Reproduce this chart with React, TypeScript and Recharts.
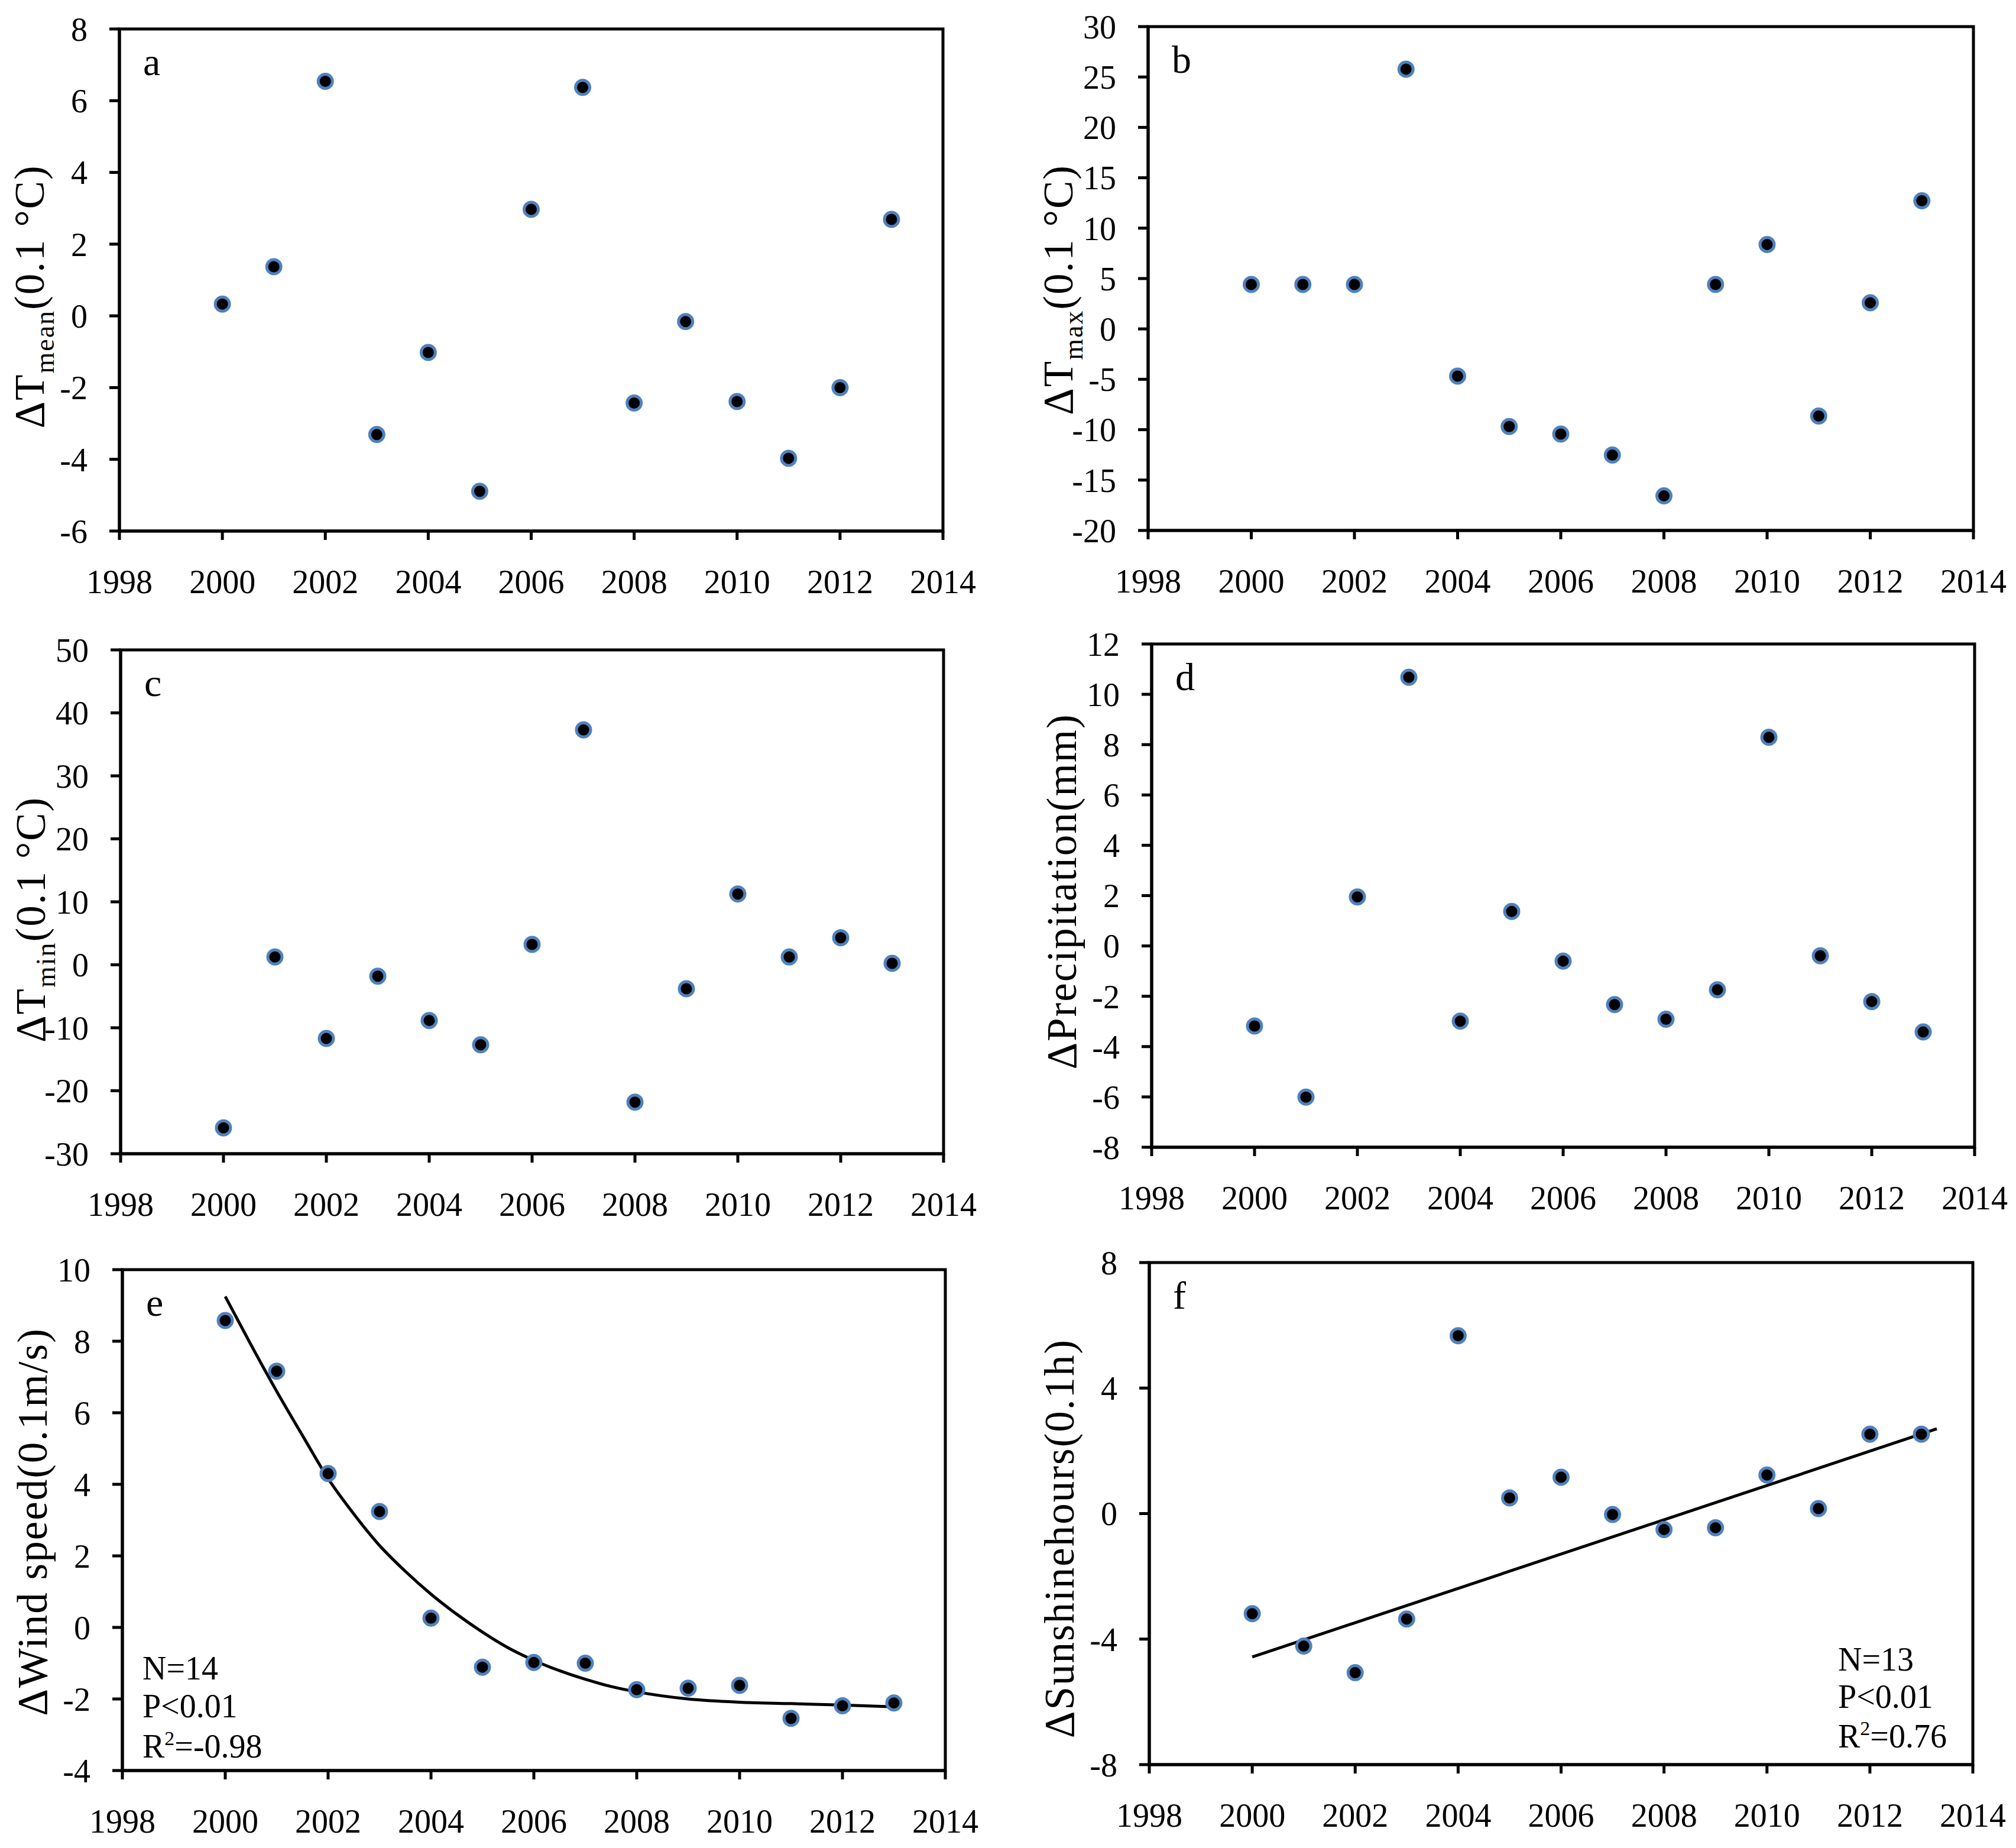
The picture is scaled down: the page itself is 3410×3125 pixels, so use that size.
import React from "react"
import {
  ComposedChart,
  Scatter,
  Line,
  XAxis,
  YAxis,
  ReferenceArea,
} from "recharts"

// years of the observations
const years = [2000, 2001, 2002, 2003, 2004, 2005, 2006, 2007, 2008, 2009, 2010, 2011, 2012, 2013]

// anomaly series
const tMean = [0.33, 1.37, 6.54, -3.31, -1.02, -4.89, 2.97, 6.37, -2.43, -0.16, -2.39, -3.97, -2.0, 2.69]
const tMax = [4.41, 4.41, 4.41, 25.77, -4.68, -9.69, -10.43, -12.52, -16.56, 4.41, 8.38, -8.64, 2.6, 12.72]
const tMin = [-25.9, 1.24, -11.7, -1.8, -8.84, -12.7, 3.24, 37.3, -21.8, -3.8, 11.25, 1.24, 4.3, 0.23]
const precipitation = [-3.18, -6.01, 1.95, 10.68, -2.99, 1.37, -0.6, -2.33, -2.91, -1.74, 8.29, -0.39, -2.21, -3.42]
const windSpeed = [8.58, 7.16, 4.3, 3.24, 0.26, -1.11, -0.98, -1.0, -1.74, -1.7, -1.62, -2.54, -2.19, -2.11]
const sunshine = [-3.19, -4.22, -5.07, -3.36, 5.67, 0.5, 1.16, -0.03, -0.51, -0.45, 1.23, 0.16, 2.53, 2.53]

// fitted curves
const windFitYears = [2000, 2000.5, 2001, 2001.5, 2002, 2002.5, 2003, 2003.5, 2004, 2004.5, 2005, 2005.5, 2006, 2006.5, 2007, 2007.5, 2008, 2009, 2010, 2011, 2012, 2013]
const windFitValues = [9.25, 7.9, 6.6, 5.37, 4.16, 3.17, 2.29, 1.57, 0.93, 0.37, -0.13, -0.57, -0.92, -1.21, -1.45, -1.65, -1.8, -2.0, -2.09, -2.13, -2.17, -2.22]
const sunFitYears = [2000, 2013.3]
const sunFitValues = [-4.57, 2.7]

// axis ticks
const xTicks = [1998, 2000, 2002, 2004, 2006, 2008, 2010, 2012, 2014]
const tMeanTicks = [-6, -4, -2, 0, 2, 4, 6, 8]
const tMaxTicks = [-20, -15, -10, -5, 0, 5, 10, 15, 20, 25, 30]
const tMinTicks = [-30, -20, -10, 0, 10, 20, 30, 40, 50]
const precipTicks = [-8, -6, -4, -2, 0, 2, 4, 6, 8, 10, 12]
const windTicks = [-4, -2, 0, 2, 4, 6, 8, 10]
const sunTicks = [-8, -4, 0, 4, 8]

const FONT = '"Liberation Serif", "Times New Roman", serif'

const toPoints = (xs: number[], ys: number[]) => xs.map((x, i) => ({ x, y: ys[i] }))

function Marker(props: any) {
  const { cx, cy } = props
  if (cx == null || cy == null) return null
  return <circle cx={cx} cy={cy} r={12} fill="#000" stroke="#4F81BD" strokeWidth={5} />
}

type LabelParts = { main: string; sub?: string; rest?: string; shift: number }

const panels = [
  {
    letter: "a", left: 0, top: 0, width: 1700, height: 1040,
    mTop: 49, mRight: 105, yWidth: 202, xHeight: 142,
    values: tMean, ticks: tMeanTicks,
    label: { main: "ΔT", sub: "mean", rest: "(0.1 °C)", shift: 28 } as LabelParts,
  },
  {
    letter: "b", left: 1700, top: 0, width: 1710, height: 1040,
    mTop: 45, mRight: 72, yWidth: 242, xHeight: 143,
    values: tMax, ticks: tMaxTicks,
    label: { main: "ΔT", sub: "max", rest: "(0.1 °C)", shift: 19 } as LabelParts,
  },
  {
    letter: "c", left: 0, top: 1040, width: 1700, height: 1040,
    mTop: 59, mRight: 104, yWidth: 204, xHeight: 129,
    values: tMin, ticks: tMinTicks,
    label: { main: "ΔT", sub: "min", rest: "(0.1 °C)", shift: 30 } as LabelParts,
  },
  {
    letter: "d", left: 1700, top: 1040, width: 1710, height: 1040,
    mTop: 49, mRight: 70, yWidth: 248, xHeight: 140,
    values: precipitation, ticks: precipTicks,
    label: { main: "ΔPrecipitation(mm)", shift: -7 } as LabelParts,
  },
  {
    letter: "e", left: 0, top: 2080, width: 1700, height: 1045,
    mTop: 67, mRight: 101, yWidth: 207, xHeight: 131,
    values: windSpeed, ticks: windTicks,
    label: { main: "ΔWind speed(0.1m/s)", shift: 3 } as LabelParts,
    fit: toPoints(windFitYears, windFitValues), fitType: "monotone",
    stats: { lines: ["N=14", "P<0.01", "-0.98"], anchor: "left" },
  },
  {
    letter: "f", left: 1700, top: 2080, width: 1710, height: 1045,
    mTop: 55, mRight: 73, yWidth: 244, xHeight: 141,
    values: sunshine, ticks: sunTicks,
    label: { main: "ΔSunshinehours(0.1h)", shift: 42 } as LabelParts,
    fit: toPoints(sunFitYears, sunFitValues), fitType: "linear",
    stats: { lines: ["N=13", "P<0.01", "0.76"], anchor: "right" },
  },
]

function PlotText({ viewBox, letter, label, stats }: any) {
  if (!viewBox) return null
  const { x, y, width, height } = viewBox
  const bx = x - 128
  const cy = y + height / 2 + label.shift
  let statsNode = null
  if (stats) {
    const sx = stats.anchor === "left" ? x + 34 : x + width - 228
    const base = stats.anchor === "left" ? [154, 90, 22] : [159, 96, 29]
    const by = base.map((b: number) => y + height - b)
    statsNode = (
      <g fontFamily={FONT} fontSize={56} fill="#000">
        <text x={sx} y={by[0]}>{stats.lines[0]}</text>
        <text x={sx} y={by[1]}>{stats.lines[1]}</text>
        <text x={sx} y={by[2]}>
          R<tspan fontSize={34} dy={-21}>2</tspan>
          <tspan dy={21}>={stats.lines[2]}</tspan>
        </text>
      </g>
    )
  }
  return (
    <g>
      <text x={x + 40} y={y + 78} fontFamily={FONT} fontSize={66} fill="#000">
        {letter}
      </text>
      <text
        x={bx}
        y={cy}
        transform={`rotate(-90, ${bx}, ${cy})`}
        textAnchor="middle"
        fontFamily={FONT}
        fontSize={71}
        letterSpacing={2}
        fill="#000"
      >
        {label.main}
        {label.sub && (
          <tspan dy={17} fontSize={46}>
            {label.sub}
          </tspan>
        )}
        {label.rest && <tspan dy={-17}>{label.rest}</tspan>}
      </text>
      {statsNode}
    </g>
  )
}

function Panel({ p }: { p: any }) {
  const lo = p.ticks[0]
  const hi = p.ticks[p.ticks.length - 1]
  return (
    <div style={{ position: "absolute", left: p.left, top: p.top }}>
      <ComposedChart
        width={p.width}
        height={p.height}
        margin={{ top: p.mTop, right: p.mRight, left: 0, bottom: 0 }}
      >
        <XAxis
          type="number"
          dataKey="x"
          domain={[1998, 2014]}
          ticks={xTicks}
          allowDataOverflow
          height={p.xHeight}
          axisLine={{ stroke: "#000", strokeWidth: 5 }}
          tickLine={{ stroke: "#000", strokeWidth: 5 }}
          tickSize={15}
          tickMargin={50}
          tick={{ fill: "#000", fontSize: 56, fontFamily: FONT }}
        />
        <YAxis
          type="number"
          dataKey="y"
          domain={[lo, hi]}
          ticks={p.ticks}
          allowDataOverflow
          width={p.yWidth}
          axisLine={{ stroke: "#000", strokeWidth: 5 }}
          tickLine={{ stroke: "#000", strokeWidth: 5 }}
          tickSize={17}
          tickMargin={37}
          tick={{ fill: "#000", fontSize: 56, fontFamily: FONT }}
        />
        <ReferenceArea
          x1={1998}
          x2={2014}
          y1={lo}
          y2={hi}
          fill="none"
          stroke="#000"
          strokeWidth={5}
          label={(props: any) => (
            <PlotText viewBox={props.viewBox} letter={p.letter} label={p.label} stats={p.stats} />
          )}
        />
        {p.fit && (
          <Line
            data={p.fit}
            dataKey="y"
            type={p.fitType}
            stroke="#000"
            strokeWidth={5}
            dot={false}
            activeDot={false}
            isAnimationActive={false}
          />
        )}
        <Scatter
          data={toPoints(years, p.values)}
          dataKey="y"
          shape={Marker}
          isAnimationActive={false}
        />
      </ComposedChart>
    </div>
  )
}

export default function App() {
  return (
    <div
      style={{
        position: "absolute",
        left: 0,
        top: 0,
        width: 3410,
        height: 3125,
        background: "#fff",
      }}
    >
      {panels.map((p) => (
        <Panel key={p.letter} p={p} />
      ))}
    </div>
  )
}
